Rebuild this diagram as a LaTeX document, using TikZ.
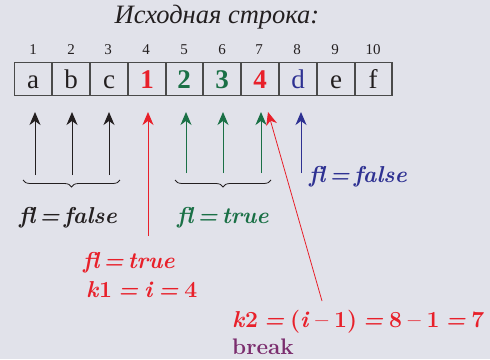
\documentclass[tikz,border=0pt]{standalone}
\usepackage{fontspec}
\newfontfamily\libfont{Liberation Serif}
\usetikzlibrary{arrows.meta,decorations.pathreplacing}
\definecolor{bg}{HTML}{E1E2EA}
\definecolor{myred}{HTML}{E8202A}
\definecolor{mygreen}{HTML}{1A7046}
\definecolor{myblue}{HTML}{2E3192}
\definecolor{mypurple}{HTML}{7B2D6E}
\definecolor{myblack}{HTML}{231F20}
\definecolor{boxline}{HTML}{4A4A4A}
\newcommand{\gp}{\hspace{4pt}}
\newcommand{\gk}{\hspace{5.8pt}}
\begin{document}
\begin{tikzpicture}[x=1pt,y=-1pt,
  cell/.style={draw=boxline,line width=1.2pt,minimum width=37.8pt,minimum height=33pt,inner sep=0pt,text height=22pt,text depth=4pt,font=\fontsize{27}{27}\libfont},
  bcell/.style={cell,font=\fontsize{27}{27}\libfont\bfseries},
  idx/.style={font=\fontsize{15}{15}\libfont,text=myblack},
  arr/.style={line width=1pt,-{Stealth[length=13pt,width=11pt,inset=4pt]}},
  lbl/.style={anchor=west,inner sep=0pt,font=\fontsize{23}{23}\selectfont\bfseries\itshape},
  brc/.style={decorate,decoration={brace,mirror,amplitude=7pt},line width=0.8pt,myblack}]
\fill[bg] (0,0) rectangle (490,359);
\useasboundingbox (0,0) rectangle (490,359);
\node[font=\fontsize{26.5}{26.5}\libfont\itshape,text=myblack] (title) at (217,17) {Исходная строка:};
% cells
\node[cell,text=myblack] (c1) at (33,79) {a};
\node[cell,text=myblack] (c2) at (71,79) {b};
\node[cell,text=myblack] (c3) at (109,79) {c};
\node[bcell,text=myred] (c4) at (147,79) {1};
\node[bcell,text=mygreen] (c5) at (184,79) {2};
\node[bcell,text=mygreen] (c6) at (222,79) {3};
\node[bcell,text=myred] (c7) at (260,79) {4};
\node[cell,text=myblue] (c8) at (298,79) {d};
\node[cell,text=myblack] (c9) at (336,79) {e};
\node[cell,text=myblack] (c10) at (373,79) {f};
% indices
\foreach \i/\x in {1/33,2/71,3/108,4/146,5/184,6/222,7/259,8/297,9/335,10/373}
  \node[idx] (n\i) at (\x,50) {\i};
% arrow endpoints
\foreach \n/\x in {1/35,2/72,3/109}{
  \coordinate (t\n) at (\x,175); \coordinate (h\n) at (\x,112);
  \draw[arr,myblack] (t\n) -- (h\n);}
\coordinate (t4) at (148,236); \coordinate (h4) at (148,112);
\draw[arr,myred] (t4) -- (h4);
\foreach \n/\x in {5/186,6/223,7/261}{
  \coordinate (t\n) at (\x,173); \coordinate (h\n) at (\x,112);
  \draw[arr,mygreen] (t\n) -- (h\n);}
\coordinate (t8) at (301,173); \coordinate (h8) at (301,112);
\draw[arr,myblue] (t8) -- (h8);
% braces
\coordinate (b1s) at (23,180); \coordinate (b1e) at (120,180);
\draw[brc] (b1s) -- (b1e);
\coordinate (b2s) at (175,180); \coordinate (b2e) at (271,180);
\draw[brc] (b2s) -- (b2e);
% labels
\node[lbl,text=myblack] (lf1) at (19,218) {fl\gp=\gp false};
\node[lbl,text=mygreen] (lt1) at (177,218) {fl\gp=\gp true};
\node[lbl,text=myblue] (lf2) at (309,177) {fl\gp=\gp false};
\node[lbl,text=myred] (lt2) at (83,263) {fl\gp=\gp true};
\node[lbl,text=myred] (lk1) at (86,290) {\textit{k}\textup{1}\gk=\gk\textit{i}\gk=\gk\textup{4}};
\node[lbl,text=myred] (lk2) at (232,322) {\textit{k}\textup{2}\gk=\gk\textup{(}\textit{i}\gk\textup{–}\gk\textup{1)}\gk=\gk\textup{8}\gk\textup{–}\gk\textup{1}\gk=\gk\textup{7}};
\node[anchor=west,inner sep=0pt,text=mypurple,font=\fontsize{22.5}{22.5}\selectfont\bfseries] (brk) at (232,347) {break};
% diagonal
\coordinate (d1) at (322,301); \coordinate (d2) at (268,112);
\draw[arr,myred,line width=0.8pt] (d1) -- (d2);
\end{tikzpicture}
\end{document}
